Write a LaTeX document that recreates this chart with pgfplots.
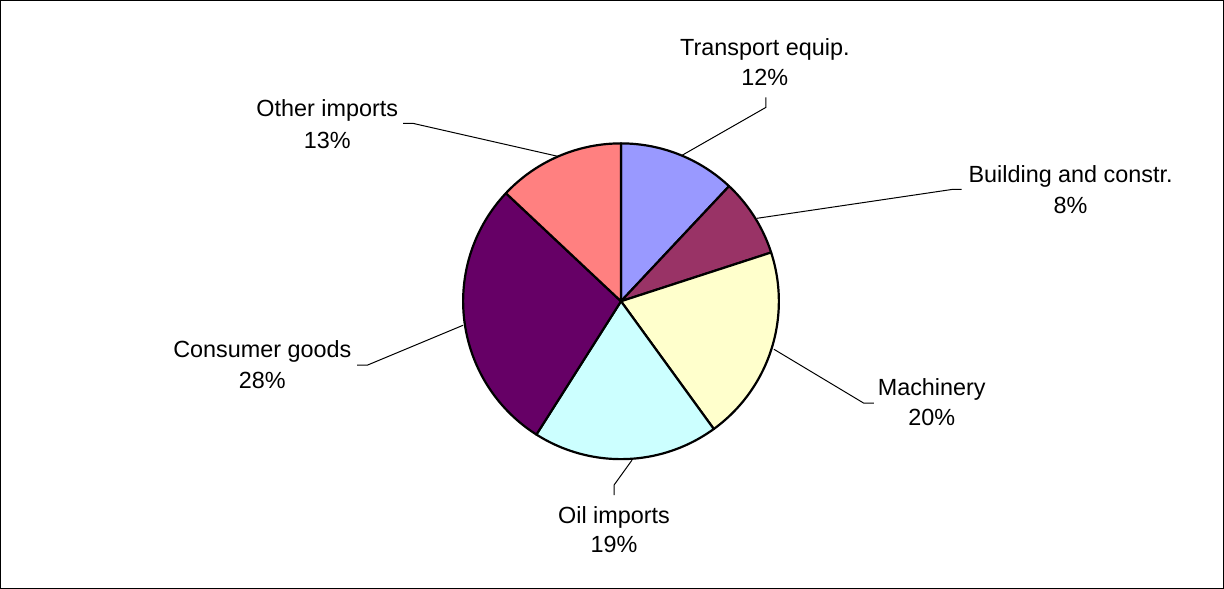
\documentclass[border=0pt]{standalone}
\usepackage{pgfplots}
\pgfplotsset{compat=1.18}
\usepackage{fontspec}
\setmainfont{Liberation Sans}
\definecolor{cTrans}{HTML}{9999FF}
\definecolor{cBuild}{HTML}{993366}
\definecolor{cMach}{HTML}{FFFFCC}
\definecolor{cOil}{HTML}{CCFFFF}
\definecolor{cCons}{HTML}{660066}
\definecolor{cOther}{HTML}{FF8080}
\newcommand\lf{\fontsize{11.7}{15}\selectfont}
% shares (%)
\def\vTrans{12}\def\vBuild{8}\def\vMach{20}\def\vOil{19}\def\vCons{28}\def\vOther{13}
\pgfmathsetmacro\aA{90}
\pgfmathsetmacro\aB{\aA-3.6*\vTrans}
\pgfmathsetmacro\aC{\aB-3.6*\vBuild}
\pgfmathsetmacro\aD{\aC-3.6*\vMach}
\pgfmathsetmacro\aE{\aD-3.6*\vOil}
\pgfmathsetmacro\aF{\aE-3.6*\vCons}
\pgfmathsetmacro\aG{\aF-3.6*\vOther}
\def\cx{621}\def\cy{301}\def\rr{158}
\begin{document}
\begin{tikzpicture}
\begin{axis}[
  width=612pt, height=294pt, scale only axis,
  xmin=0, xmax=1224, ymin=0, ymax=588, y dir=reverse,
  xtick=\empty, ytick=\empty,
  axis line style={black, line width=0.5pt},
  clip=false,
]
\pgfplotsset{pie/.style={draw=black, line width=1.1pt, samples=80, line join=round}}
\addplot[pie, fill=cTrans, domain=\aB:\aA] ({\cx+\rr*cos(x)},{\cy-\rr*sin(x)}) -- (\cx,\cy) -- cycle;
\addplot[pie, fill=cBuild, domain=\aC:\aB] ({\cx+\rr*cos(x)},{\cy-\rr*sin(x)}) -- (\cx,\cy) -- cycle;
\addplot[pie, fill=cMach, domain=\aD:\aC] ({\cx+\rr*cos(x)},{\cy-\rr*sin(x)}) -- (\cx,\cy) -- cycle;
\addplot[pie, fill=cOil, domain=\aE:\aD] ({\cx+\rr*cos(x)},{\cy-\rr*sin(x)}) -- (\cx,\cy) -- cycle;
\addplot[pie, fill=cCons, domain=\aF:\aE] ({\cx+\rr*cos(x)},{\cy-\rr*sin(x)}) -- (\cx,\cy) -- cycle;
\addplot[pie, fill=cOther, domain=\aG:\aF] ({\cx+\rr*cos(x)},{\cy-\rr*sin(x)}) -- (\cx,\cy) -- cycle;
% leader lines
\addplot[black, line width=0.5pt] coordinates {(682,155) (766,107) (766,97)};
\addplot[black, line width=0.5pt] coordinates {(757,218) (953,189) (962,189)};
\addplot[black, line width=0.5pt] coordinates {(774,349) (864,403) (874,403)};
\addplot[black, line width=0.5pt] coordinates {(632,460) (614,485) (614,495)};
\addplot[black, line width=0.5pt] coordinates {(463,325) (367,365) (357,365)};
\addplot[black, line width=0.5pt] coordinates {(558,156) (413,123) (403,123)};
% labels
\tikzset{lbl/.style={anchor=base, inner sep=0pt}}
\node[lbl] at (axis cs:765,55) {\lf Transport equip.};
\node[lbl] at (axis cs:765,85) {\lf \vTrans\%};
\node[lbl] at (axis cs:1071,182) {\lf Building and constr.};
\node[lbl] at (axis cs:1071,213) {\lf \vBuild\%};
\node[lbl] at (axis cs:932,395) {\lf Machinery};
\node[lbl] at (axis cs:932,425) {\lf \vMach\%};
\node[lbl] at (axis cs:614,523) {\lf Oil imports};
\node[lbl] at (axis cs:614,552) {\lf \vOil\%};
\node[lbl] at (axis cs:262,357) {\lf Consumer goods};
\node[lbl] at (axis cs:262,388) {\lf \vCons\%};
\node[lbl] at (axis cs:327,116) {\lf Other imports};
\node[lbl] at (axis cs:327,148) {\lf \vOther\%};
\end{axis}
\end{tikzpicture}
\end{document}
